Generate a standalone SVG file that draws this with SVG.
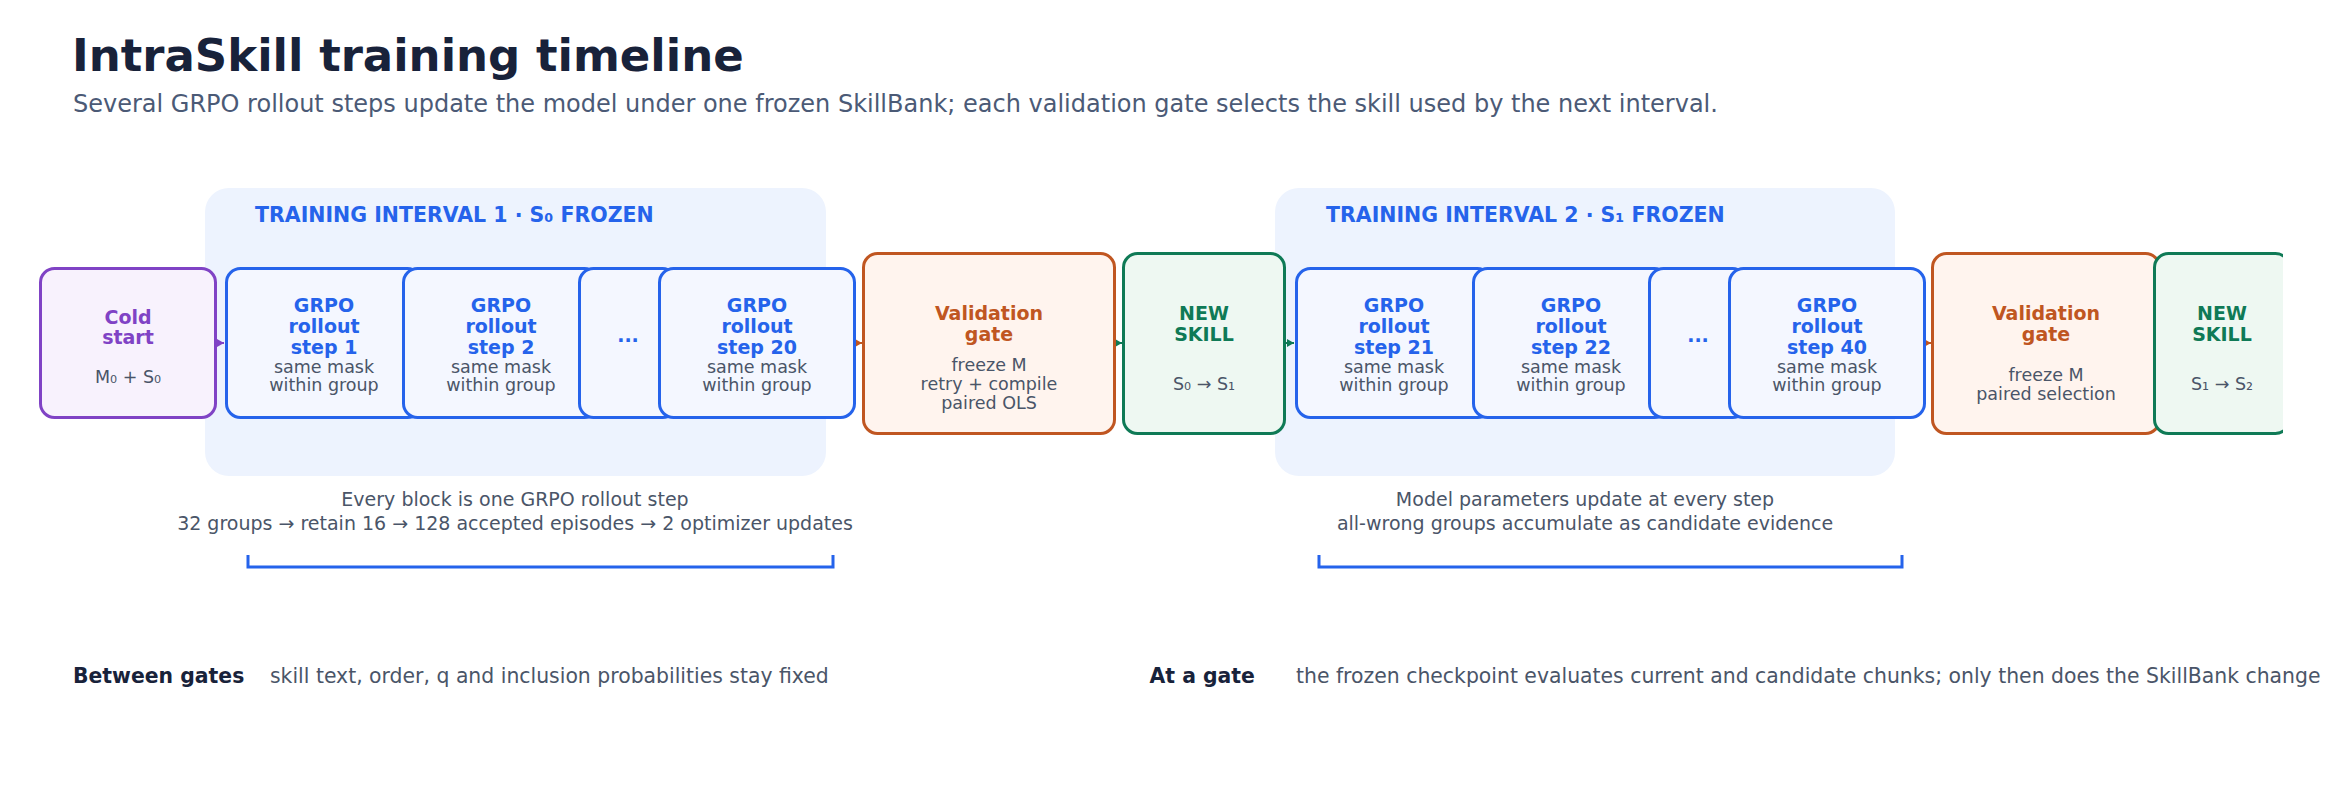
<svg xmlns="http://www.w3.org/2000/svg" width="2338" height="793" viewBox="0 0 2338 793">
<style>
text{font-family:"DejaVu Sans","Noto Sans",sans-serif}
.title{font-size:45px;font-weight:bold;fill:#18223a}
.sub{font-size:24px;fill:#4b5a76}
.ptitle{font-size:20.5px;font-weight:bold;fill:#2563eb}
.panel{fill:#edf3fe}
.box{stroke-width:3}
.blue{fill:#f4f7ff;stroke:#2563eb}
.purple{fill:#f8f2fd;stroke:#8043c5}
.orange{fill:#fff4ee;stroke:#c05621}
.green{fill:#eef8f2;stroke:#0f7a56}
.h{font-size:19px;font-weight:bold;text-anchor:middle}
.hb{fill:#2563eb}.hp{fill:#8043c5}.ho{fill:#c05621}.hg{fill:#0f7a56}
.b{font-size:17.5px;fill:#4a5568;text-anchor:middle}
.note{font-size:19px;fill:#4a5568;text-anchor:middle}
.lab{font-size:20.4px;font-weight:bold;fill:#18223a}
.desc{font-size:20.4px;fill:#4a5568}
.br{fill:none;stroke:#2563eb;stroke-width:3}
.cn{fill:none;stroke-width:2}
</style>
<defs>
<marker id="mp" markerUnits="userSpaceOnUse" markerWidth="7" markerHeight="8" refX="7" refY="4" orient="auto"><path d="M0,0 L7,4 L0,8 z" fill="#8043c5"/></marker>
<marker id="mo" markerUnits="userSpaceOnUse" markerWidth="7" markerHeight="8" refX="7" refY="4" orient="auto"><path d="M0,0 L7,4 L0,8 z" fill="#c05621"/></marker>
<marker id="mg" markerUnits="userSpaceOnUse" markerWidth="7" markerHeight="8" refX="7" refY="4" orient="auto"><path d="M0,0 L7,4 L0,8 z" fill="#0f7a56"/></marker>
<clipPath id="clipR"><rect x="0" y="0" width="2283" height="793"/></clipPath>
</defs>
<rect width="2338" height="793" fill="#ffffff"/>
<text class="title" x="72" y="71">IntraSkill training timeline</text>
<text class="sub" x="73" y="112">Several GRPO rollout steps update the model under one frozen SkillBank; each validation gate selects the skill used by the next interval.</text>

<g id="interval1">
<rect class="panel" x="205" y="188" width="621" height="288" rx="24"/>
<text class="ptitle" x="255" y="222">TRAINING INTERVAL 1 · S₀ FROZEN</text>
</g>
<g id="interval2">
<rect class="panel" x="1275" y="188" width="620" height="288" rx="24"/>
<text class="ptitle" x="1326" y="222">TRAINING INTERVAL 2 · S₁ FROZEN</text>
</g>

<g id="connectors">
<line class="cn" stroke="#8043c5" x1="216" y1="343" x2="224" y2="343" marker-end="url(#mp)"/>
<line class="cn" stroke="#c05621" x1="855" y1="343" x2="862" y2="343" marker-end="url(#mo)"/>
<line class="cn" stroke="#0f7a56" x1="1115" y1="343" x2="1122" y2="343" marker-end="url(#mg)"/>
<line class="cn" stroke="#0f7a56" x1="1285" y1="343" x2="1294" y2="343" marker-end="url(#mg)"/>
<line class="cn" stroke="#c05621" x1="1925" y1="343" x2="1931" y2="343" marker-end="url(#mo)"/>
</g>

<g id="cold-start">
<rect class="box purple" x="40.5" y="268.5" width="175" height="149" rx="14"/>
<text class="h hp" x="128" y="324">Cold</text>
<text class="h hp" x="128" y="344">start</text>
<text class="b" x="128" y="383">M₀ + S₀</text>
</g>
<g id="step1">
<rect class="box blue" x="226.5" y="268.5" width="195" height="149" rx="14"/>
<text class="h hb" x="324" y="312">GRPO</text>
<text class="h hb" x="324" y="333">rollout</text>
<text class="h hb" x="324" y="354">step 1</text>
<text class="b" x="324" y="373">same mask</text>
<text class="b" x="324" y="391">within group</text>
</g>
<g id="step2">
<rect class="box blue" x="403.5" y="268.5" width="195" height="149" rx="14"/>
<text class="h hb" x="501" y="312">GRPO</text>
<text class="h hb" x="501" y="333">rollout</text>
<text class="h hb" x="501" y="354">step 2</text>
<text class="b" x="501" y="373">same mask</text>
<text class="b" x="501" y="391">within group</text>
</g>
<g id="dots1">
<rect class="box blue" x="579.5" y="268.5" width="97" height="149" rx="14"/>
<text class="h hb" x="628" y="342">...</text>
</g>
<g id="step20">
<rect class="box blue" x="659.5" y="268.5" width="195" height="149" rx="14"/>
<text class="h hb" x="757" y="312">GRPO</text>
<text class="h hb" x="757" y="333">rollout</text>
<text class="h hb" x="757" y="354">step 20</text>
<text class="b" x="757" y="373">same mask</text>
<text class="b" x="757" y="391">within group</text>
</g>
<g id="gate1">
<rect class="box orange" x="863.5" y="253.5" width="251" height="180" rx="14"/>
<text class="h ho" x="989" y="320">Validation</text>
<text class="h ho" x="989" y="341">gate</text>
<text class="b" x="989" y="371">freeze M</text>
<text class="b" x="989" y="390">retry + compile</text>
<text class="b" x="989" y="409">paired OLS</text>
</g>
<g id="skill1">
<rect class="box green" x="1123.5" y="253.5" width="161" height="180" rx="14"/>
<text class="h hg" x="1204" y="320">NEW</text>
<text class="h hg" x="1204" y="341">SKILL</text>
<text class="b" x="1204" y="390">S₀ → S₁</text>
</g>
<g id="step21">
<rect class="box blue" x="1296.5" y="268.5" width="195" height="149" rx="14"/>
<text class="h hb" x="1394" y="312">GRPO</text>
<text class="h hb" x="1394" y="333">rollout</text>
<text class="h hb" x="1394" y="354">step 21</text>
<text class="b" x="1394" y="373">same mask</text>
<text class="b" x="1394" y="391">within group</text>
</g>
<g id="step22">
<rect class="box blue" x="1473.5" y="268.5" width="195" height="149" rx="14"/>
<text class="h hb" x="1571" y="312">GRPO</text>
<text class="h hb" x="1571" y="333">rollout</text>
<text class="h hb" x="1571" y="354">step 22</text>
<text class="b" x="1571" y="373">same mask</text>
<text class="b" x="1571" y="391">within group</text>
</g>
<g id="dots2">
<rect class="box blue" x="1649.5" y="268.5" width="97" height="149" rx="14"/>
<text class="h hb" x="1698" y="342">...</text>
</g>
<g id="step40">
<rect class="box blue" x="1729.5" y="268.5" width="195" height="149" rx="14"/>
<text class="h hb" x="1827" y="312">GRPO</text>
<text class="h hb" x="1827" y="333">rollout</text>
<text class="h hb" x="1827" y="354">step 40</text>
<text class="b" x="1827" y="373">same mask</text>
<text class="b" x="1827" y="391">within group</text>
</g>
<g id="gate2">
<rect class="box orange" x="1932.5" y="253.5" width="227" height="180" rx="14"/>
<text class="h ho" x="2046" y="320">Validation</text>
<text class="h ho" x="2046" y="341">gate</text>
<text class="b" x="2046" y="381">freeze M</text>
<text class="b" x="2046" y="400">paired selection</text>
</g>
<g id="skill2" clip-path="url(#clipR)">
<rect class="box green" x="2154.5" y="253.5" width="135" height="180" rx="14"/>
<text class="h hg" x="2222" y="320">NEW</text>
<text class="h hg" x="2222" y="341">SKILL</text>
<text class="b" x="2222" y="390">S₁ → S₂</text>
</g>

<g id="notes1">
<text class="note" x="515" y="506">Every block is one GRPO rollout step</text>
<text class="note" x="515" y="530">32 groups → retain 16 → 128 accepted episodes → 2 optimizer updates</text>
<path class="br" d="M248,555 V567 H833 V555"/>
</g>
<g id="notes2">
<text class="note" x="1585" y="506">Model parameters update at every step</text>
<text class="note" x="1585" y="530">all-wrong groups accumulate as candidate evidence</text>
<path class="br" d="M1319,555 V567 H1902 V555"/>
</g>
<g id="legend">
<text class="lab" x="73" y="683">Between gates</text>
<text class="desc" x="270" y="683">skill text, order, q and inclusion probabilities stay fixed</text>
<text class="lab" x="1149.5" y="683">At a gate</text>
<text class="desc" x="1296" y="683">the frozen checkpoint evaluates current and candidate chunks; only then does the SkillBank change</text>
</g>
</svg>
